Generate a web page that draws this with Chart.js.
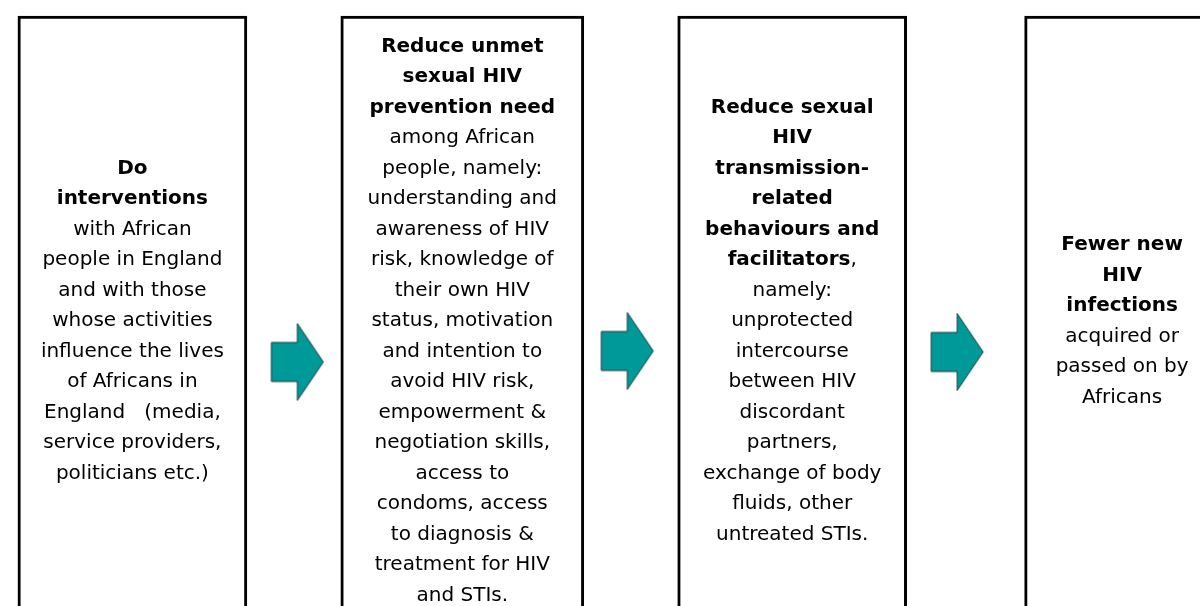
<!DOCTYPE html>
<html lang="en">

<head>
  <meta charset="UTF-8">
  <title>HIV prevention pathway</title>
  <script src="https://cdn.jsdelivr.net/npm/chart.js"></script>
  <style>
    body { margin: 0; background: #fff; overflow: hidden; }
  </style>
</head>

<body>
  <canvas id="chartPathway" width="1200" height="606"></canvas>
</body>

</html>

<script>

  // Dados: text of each box (*...* = bold)
  const steps = ['Interventions', 'Prevention need', 'Behaviours', 'Infections'];

  const interventionLines = [
    '*Do*', '*interventions*', 'with African', 'people in England', 'and with those',
    'whose activities', 'influence the lives', 'of Africans in', 'England   (media,',
    'service providers,', 'politicians etc.)'
  ];

  const needLines = [
    '*Reduce unmet*', '*sexual HIV*', '*prevention need*', 'among African', 'people, namely:',
    'understanding and', 'awareness of HIV', 'risk, knowledge of', 'their own HIV',
    'status, motivation', 'and intention to', 'avoid HIV risk,', 'empowerment &',
    'negotiation skills,', 'access to', 'condoms, access', 'to diagnosis &',
    'treatment for HIV', 'and STIs.'
  ];

  const behaviourLines = [
    '*Reduce sexual*', '*HIV*', '*transmission-*', '*related*', '*behaviours and*',
    '*facilitators*,', 'namely:', 'unprotected', 'intercourse', 'between HIV',
    'discordant', 'partners,', 'exchange of body', 'fluids, other', 'untreated STIs.'
  ];

  const outcomeLines = [
    '*Fewer new*', '*HIV*', '*infections*', 'acquired or', 'passed on by', 'Africans'
  ];

  const boxLines = [interventionLines, needLines, behaviourLines, outcomeLines];

  // height of every box and level of the arrows (y axis, 0 = bottom)
  const boxTop = [590, 590, 590, 590];
  const arrowLevel = [244, 255, 254];

  // estilo
  const boxWidth = [229, 243, 229, 195];
  const fontFamily = 'Verdana, "DejaVu Sans", sans-serif';
  const fontSize = 20;
  const lineHeight = 30.5;
  const textLevel = 287;

  // arrow drawn once and used as point style
  function makeArrow() {
    const c = document.createElement('canvas');
    c.width = 56;
    c.height = 81;
    const g = c.getContext('2d');
    g.beginPath();
    g.moveTo(2, 21);
    g.lineTo(28, 21);
    g.lineTo(28, 2);
    g.lineTo(54, 40.5);
    g.lineTo(28, 79);
    g.lineTo(28, 60);
    g.lineTo(2, 60);
    g.closePath();
    g.fillStyle = '#009999';
    g.fill();
    g.lineWidth = 1;
    g.strokeStyle = '#1e3b3b';
    g.stroke();
    return c;
  }

  const boxText = {
    id: 'boxText',
    afterDatasetsDraw(chart) {
      const ctx = chart.ctx;
      const x = chart.scales.x;
      const y = chart.scales.y;
      const normal = fontSize + 'px ' + fontFamily;
      const bold = 'bold ' + fontSize + 'px ' + fontFamily;

      ctx.save();
      ctx.fillStyle = '#000';
      ctx.textBaseline = 'alphabetic';
      ctx.textAlign = 'left';

      boxLines.forEach((lines, i) => {
        const cx = x.getPixelForValue(i);
        const cy = y.getPixelForValue(textLevel);
        const n = lines.length;

        lines.forEach((line, k) => {
          const parts = line.split('*');
          let total = 0;
          parts.forEach((p, j) => {
            ctx.font = j % 2 ? bold : normal;
            total += ctx.measureText(p).width;
          });
          let px = cx - total / 2;
          const base = cy + (k - (n - 1) / 2) * lineHeight + fontSize * 0.365;
          parts.forEach((p, j) => {
            ctx.font = j % 2 ? bold : normal;
            ctx.fillText(p, px, base);
            px += ctx.measureText(p).width;
          });
        });
      });
      ctx.restore();
    }
  };

  // one bar per box, so every box can have its own width
  const boxDatasets = boxTop.map((v, i) => ({
    label: steps[i],
    data: [{ x: i, y: v }],
    backgroundColor: '#ffffff',
    borderColor: '#000000',
    borderWidth: 3,
    borderSkipped: 'start',
    barThickness: boxWidth[i],
    grouped: false
  }));

  const pathway = document.getElementById('chartPathway');

  new Chart(pathway, {
    type: 'bar',
    data: {
      datasets: [...boxDatasets, {
        type: 'scatter',
        label: 'Arrows',
        data: arrowLevel.map((v, i) => ({ x: i + 0.5, y: v })),
        pointStyle: makeArrow(),
        pointRadius: 30
      }]
    },
    options: {
      responsive: false,
      devicePixelRatio: 1,
      animation: false,
      layout: { padding: 0, autoPadding: false },
      plugins: {
        legend: { display: false },
        tooltip: { enabled: false }
      },
      scales: {
        x: {
          type: 'linear',
          display: false,
          offset: false,
          min: -0.4013,
          max: 3.2361
        },
        y: {
          type: 'linear',
          display: false,
          min: 0,
          max: 606
        }
      }
    },
    plugins: [boxText]
  });

</script>
